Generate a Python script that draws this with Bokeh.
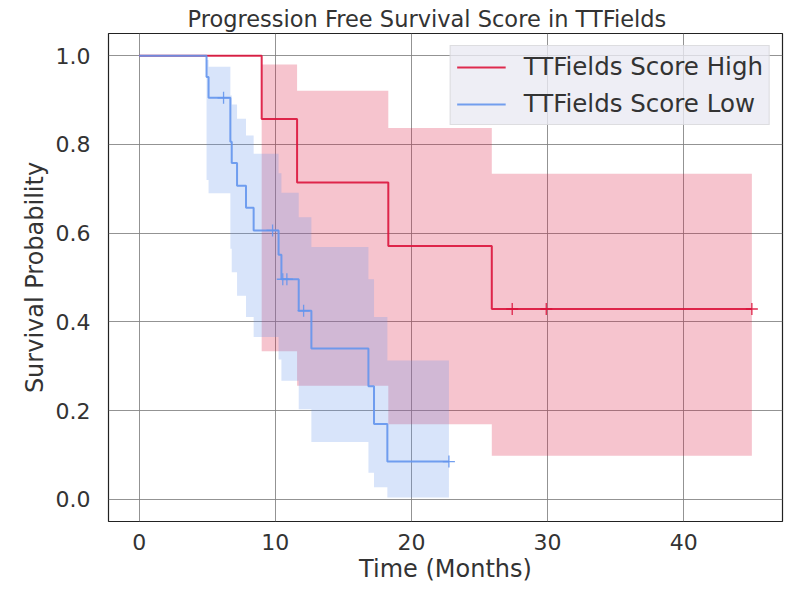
import numpy as np
from bokeh.plotting import figure
from bokeh.models import Legend, LegendItem, FixedTicker, Range1d
from bokeh.embed import file_html
from bokeh.resources import INLINE

# ---- data (Kaplan-Meier steps) ----
high_times = [0.0, 9.0, 11.6, 18.3, 25.9, 45.0]
high_surv = [1.0, 0.857, 0.714, 0.571, 0.429, 0.429]
high_ci_lower = [1.0, 0.334, 0.256, 0.169, 0.098, 0.098]
high_ci_upper = [1.0, 0.980, 0.921, 0.837, 0.734, 0.734]
high_censored = [27.4, 29.9, 45.0]

low_times = [0.0, 4.95, 5.1, 6.7, 6.8, 7.19, 7.85, 8.41, 10.24, 10.45,
             11.72, 12.65, 16.84, 17.25, 18.23, 22.75]
low_surv = [1.0, 0.952, 0.905, 0.806, 0.758, 0.707, 0.657, 0.606, 0.551, 0.496,
            0.425, 0.340, 0.255, 0.170, 0.085, 0.085]
low_ci_lower = [1.0, 0.72, 0.69, 0.565, 0.512, 0.459, 0.411, 0.366, 0.315, 0.267,
                0.203, 0.129, 0.060, 0.027, 0.004, 0.004]
low_ci_upper = [1.0, 0.99, 0.975, 0.91, 0.89, 0.858, 0.820, 0.779, 0.735, 0.691,
                0.636, 0.569, 0.496, 0.411, 0.313, 0.313]
low_censored = [6.2, 9.8, 10.55, 10.85, 12.08, 22.75]

series_names = ["TTFields Score High", "TTFields Score Low"]
x_ticks = [0, 10, 20, 30, 40]
y_ticks = [0.0, 0.2, 0.4, 0.6, 0.8, 1.0]
y_tick_labels = ["0.0", "0.2", "0.4", "0.6", "0.8", "1.0"]

FONT = "DejaVu Sans"
TEXT = "#333333"

p = figure(width=784, height=585,
           x_range=Range1d(-2.25, 47.25), y_range=Range1d(-0.05, 1.05),
           output_backend="svg", toolbar_location=None,
           min_border_left=108, min_border_right=2,
           min_border_top=33, min_border_bottom=50,
           title="Progression Free Survival Score in TTFields")

p.background_fill_color = "white"
p.border_fill_color = "white"
p.outline_line_color = "#222222"
p.outline_line_width = 1.2

p.title.text_font = FONT
p.title.text_font_size = "22.5px"
p.title.text_font_style = "normal"
p.title.text_color = TEXT
p.title.align = "left"
p.title.offset = 79
p.title.standoff = 3

for ax in (p.xaxis[0], p.yaxis[0]):
    ax.axis_line_color = None
    ax.major_tick_line_color = None
    ax.minor_tick_line_color = None
    ax.major_label_text_font = FONT
    ax.major_label_text_font_size = "22px"
    ax.major_label_text_color = TEXT
    ax.axis_label_text_font = FONT
    ax.axis_label_text_font_size = "24px"
    ax.axis_label_text_font_style = "normal"
    ax.axis_label_text_color = TEXT

p.xaxis.ticker = FixedTicker(ticks=x_ticks)
p.yaxis.ticker = FixedTicker(ticks=y_ticks)
p.yaxis.major_label_overrides = {t: l for t, l in zip(y_ticks, y_tick_labels)}
p.xaxis.axis_label = "Time (Months)"
p.yaxis.axis_label = "Survival Probability"
p.xaxis.major_label_standoff = 6
p.yaxis.major_label_standoff = 12
p.xaxis.axis_label_standoff = 2
p.yaxis.axis_label_standoff = 4

p.xgrid.ticker = FixedTicker(ticks=x_ticks)
p.ygrid.ticker = FixedTicker(ticks=y_ticks)
for g in (p.xgrid[0], p.ygrid[0]):
    g.grid_line_color = "#808080"
    g.grid_line_alpha = 0.85
    g.grid_line_width = 1


def step_value(times, values, t):
    idx = np.searchsorted(np.asarray(times), np.asarray(t), side="right") - 1
    return list(np.asarray(values)[idx])


groups = [
    (high_times, high_surv, high_ci_lower, high_ci_upper, high_censored, "#dc143c"),
    (low_times, low_surv, low_ci_lower, low_ci_upper, low_censored, "#6495ed"),
]

items = []
for name, (t, s, lo, hi, cens, col) in zip(series_names, groups):
    p.varea_step(x=t, y1=lo, y2=hi, step_mode="after",
                 fill_color=col, fill_alpha=0.25)
    r = p.step(x=t, y=s, mode="after", line_color=col, line_width=2,
               line_alpha=0.9)
    p.scatter(x=cens, y=step_value(t, s, cens), marker="cross", size=12,
              line_color=col, line_width=1.3, line_alpha=0.9)
    items.append(LegendItem(label=name, renderers=[r]))

legend = Legend(items=items, location="top_right")
legend.label_text_font = FONT
legend.label_text_font_size = "24.5px"
legend.label_text_color = TEXT
legend.glyph_width = 49
legend.glyph_height = 28
legend.label_height = 28
legend.label_standoff = 18
legend.spacing = 8
legend.padding = 6
legend.margin = 12
legend.background_fill_color = "#eaeaf2"
legend.background_fill_alpha = 0.8
legend.border_line_color = "#cccccc"
legend.border_line_width = 1
p.add_layout(legend)

html = file_html(p, INLINE)
open("out.html", "w").write(html)
